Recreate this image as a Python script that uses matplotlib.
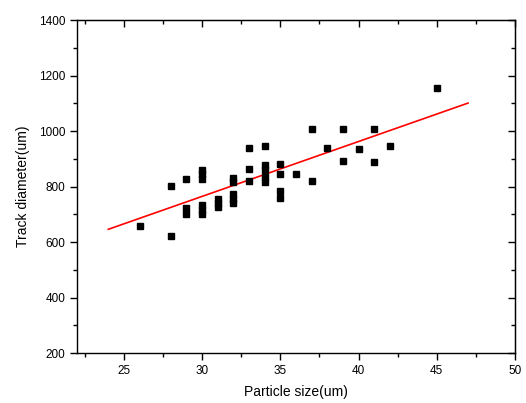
import matplotlib
matplotlib.use("Agg")
import matplotlib.pyplot as plt
from matplotlib.ticker import MultipleLocator

# -----------------------------
# DATA
# -----------------------------
particle_size = [26, 28, 28,
                 29, 29, 29,
                 30, 30, 30, 30, 30, 30,
                 31, 31, 31,
                 32, 32, 32, 32, 32,
                 33, 33, 33,
                 34, 34, 34, 34, 34,
                 35, 35, 35, 35,
                 36, 37, 37, 38, 39, 39, 40, 41, 41, 42, 45]
track_diameter = [658, 801, 622,
                  829, 722, 702,
                  860, 845, 826, 732, 716, 700,
                  755, 740, 727,
                  830, 817, 775, 757, 740,
                  940, 865, 820,
                  945, 879, 860, 836, 817,
                  882, 846, 784, 758,
                  846, 1009, 820, 938, 1009, 891, 937, 1009, 887, 945, 1154]

# linear fit line endpoints
fit_x = [24, 47]
fit_y = [646, 1101]

# -----------------------------
# PLOT
# -----------------------------
plt.rcParams['font.family'] = ['Liberation Sans', 'DejaVu Sans']

fig = plt.figure(figsize=(5.26, 4.03), dpi=100)
ax = fig.add_axes([0.1464, 0.124, 0.8326, 0.826])

ax.plot(particle_size, track_diameter, 's', color='black', markersize=5, zorder=3)
ax.plot(fit_x, fit_y, '-', color='red', lw=1.2, zorder=2)

ax.set_xlim(22, 50)
ax.set_ylim(200, 1400)
ax.xaxis.set_major_locator(MultipleLocator(5))
ax.xaxis.set_minor_locator(MultipleLocator(2.5))
ax.yaxis.set_major_locator(MultipleLocator(200))
ax.yaxis.set_minor_locator(MultipleLocator(100))

ax.tick_params(which='major', direction='out', length=5, width=1.0, labelsize=8.5)
ax.tick_params(which='minor', direction='out', length=3, width=1.0)
for s in ax.spines.values():
    s.set_linewidth(1.0)

# inward ticks on top and right, no labels
top = ax.secondary_xaxis('top')
top.xaxis.set_major_locator(MultipleLocator(5))
top.xaxis.set_minor_locator(MultipleLocator(2.5))
top.tick_params(which='major', direction='in', length=5, width=1.0, labeltop=False)
top.tick_params(which='minor', direction='in', length=3, width=1.0)
right = ax.secondary_yaxis('right')
right.yaxis.set_major_locator(MultipleLocator(200))
right.yaxis.set_minor_locator(MultipleLocator(100))
right.tick_params(which='major', direction='in', length=5, width=1.0, labelright=False)
right.tick_params(which='minor', direction='in', length=3, width=1.0)

ax.set_xlabel("Particle size(um)", fontsize=10, labelpad=6)
ax.set_ylabel("Track diameter(um)", fontsize=10, labelpad=6)

fig.savefig("out.png", dpi=100)
